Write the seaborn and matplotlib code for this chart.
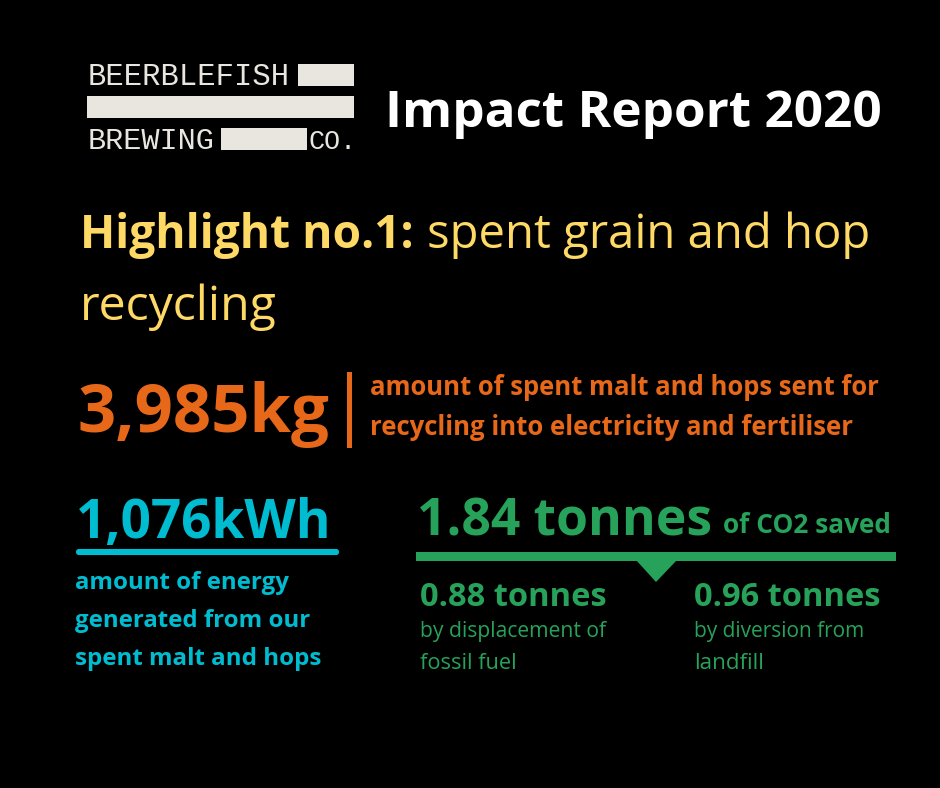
import seaborn as sns
import matplotlib.pyplot as plt
from matplotlib.patches import Polygon, Rectangle, FancyBboxPatch

# Text and numbers from the report
title = "Impact Report 2020"
logo_words = ["BEERBLEFISH", "BREWING", "CO."]
highlight = "Highlight no.1:"
highlight_rest = ["spent grain and hop", "recycling"]
malt_total = "3,985kg"
malt_text = ["amount of spent malt and hops sent for", "recycling into electricity and fertiliser"]
energy_total = "1,076kWh"
energy_text = ["amount of energy", "generated from our", "spent malt and hops"]
co2_total = "1.84 tonnes"
co2_suffix = "of CO2 saved"
co2_parts = ["0.88 tonnes", "0.96 tonnes"]
co2_part_text = [["by displacement of", "fossil fuel"], ["by diversion from", "landfill"]]

CREAM = "#e8e6df"
YELLOW = "#ffd966"
ORANGE = "#e8681a"
CYAN = "#00bcd0"
GREEN = "#27a25a"

sns.set_theme(style="dark", rc={"figure.facecolor": "black", "axes.facecolor": "black"})
plt.rcParams['font.family'] = ['Open Sans', 'DejaVu Sans']

fig = plt.figure(figsize=(9.4, 7.88), dpi=100)
ax = fig.add_axes([0, 0, 1, 1])
ax.set_xlim(0, 940)
ax.set_ylim(788, 0)
ax.axis('off')
renderer = fig.canvas.get_renderer()


def put(x, y, s, width, color, bold=False, family=None):
    # place on a baseline and scale the font so the text spans width pixels
    t = ax.text(x, y, s, color=color, fontsize=20, va='baseline',
                fontweight='bold' if bold else 'normal')
    if family:
        t.set_family(family)
    t.set_fontsize(20 * width / t.get_window_extent(renderer).width)
    return t


# Logo
put(88, 85, logo_words[0], 202, CREAM, family='Liberation Mono')
put(88, 149, logo_words[1], 127, CREAM, family='Liberation Mono')
put(309, 149, logo_words[2], 48, CREAM, family='Liberation Mono')
for x, y, w, h in [(298, 64, 56, 22), (87, 96, 267, 22), (221, 128, 86, 22)]:
    ax.add_patch(Rectangle((x, y), w, h, color=CREAM, lw=0))

# Heading
put(385, 127, title, 496, 'white', bold=True)

# Highlight
put(80, 248, highlight, 334, YELLOW, bold=True)
put(427, 248, highlight_rest[0], 442, YELLOW)
put(80, 320, highlight_rest[1], 197, YELLOW)

# Spent malt
put(78, 432, malt_total, 252, ORANGE, bold=True)
ax.add_patch(Rectangle((347, 372), 5, 76, color=ORANGE, lw=0))
put(370, 395, malt_text[0], 508, ORANGE, bold=True)
put(370, 435, malt_text[1], 482, ORANGE, bold=True)

# Energy
put(76, 538, energy_total, 256, CYAN, bold=True)
ax.add_patch(FancyBboxPatch((77, 550), 261, 4, boxstyle="round,pad=0,rounding_size=2", fc=CYAN, ec=CYAN, lw=1.5))
for y, w, line in zip([589, 627, 665], [214, 234, 246], energy_text):
    put(75, y, line, w, CYAN, bold=True)

# CO2 saved
put(417, 535, co2_total, 295, GREEN, bold=True)
put(723, 533, co2_suffix, 168, GREEN, bold=True)
ax.add_patch(Rectangle((416, 552), 480, 9, color=GREEN, lw=0))
ax.add_patch(Polygon([(636, 560), (677, 560), (656, 582)], color=GREEN, lw=0))
for x, head, lines, w1, w2 in zip([420, 694], co2_parts, co2_part_text, [186, 170], [96, 70]):
    put(x, 606, head, 187, GREEN, bold=True)
    put(x, 637, lines[0], w1, GREEN)
    put(x, 669, lines[1], w2, GREEN)

fig.savefig("out.png", dpi=100, facecolor='black')
